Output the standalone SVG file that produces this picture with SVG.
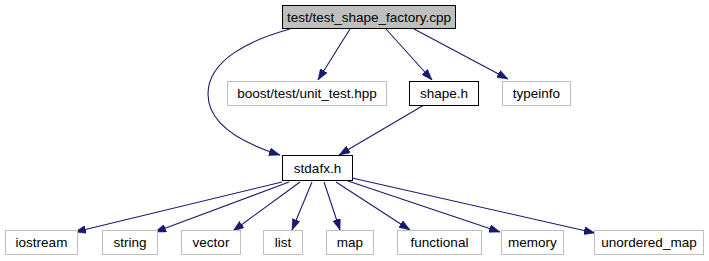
<svg xmlns="http://www.w3.org/2000/svg" width="709" height="261" viewBox="0 0 709 261">
  <style>
    .node text { font-family: "Liberation Sans", Arial, sans-serif; font-size: 13.5px; fill: #000; text-anchor: middle; }
    .main rect { fill: #bfbfbf; stroke: #000; stroke-width: 1; }
    .local rect { fill: #fff; stroke: #000; stroke-width: 1; }
    .sys rect { fill: #fff; stroke: #bfbfbf; stroke-width: 1; }
    .edges path { fill: none; stroke: #191970; stroke-width: 1.1; marker-end: url(#arrow); }
  </style>
  <defs>
    <marker id="arrow" viewBox="0 0 11 8" markerWidth="11" markerHeight="8" refX="11" refY="4" orient="auto" markerUnits="userSpaceOnUse">
      <path d="M0,0 L11,4 L0,8 z" fill="#191970" stroke="#191970" stroke-width="0.5"/>
    </marker>
  </defs>
  <rect width="709" height="261" fill="#fff"/>

  <!-- dependency edges -->
  <g class="edges" id="edges">
    <path d="M290,29 C250,40 208,60 208,94 C208,126 245,144 280,155"/>
    <path d="M350,29 L318,80"/>
    <path d="M386,29 L432,80"/>
    <path d="M414,29 L508,79"/>
    <path d="M424,105 L339,155"/>
    <path d="M282,182 L75,232"/>
    <path d="M289,182 L155,232"/>
    <path d="M300,182 L233,231"/>
    <path d="M312,182 L292,230"/>
    <path d="M324,182 L340,230"/>
    <path d="M336,182 L410,230"/>
    <path d="M348,181 L500,232"/>
    <path d="M352,178 L595,233"/>
  </g>

  <!-- source file -->
  <g class="node main" id="node_test_shape_factory">
    <rect x="282.5" y="5.5" width="173" height="23"/>
    <text x="369" y="22">test/test_shape_factory.cpp</text>
  </g>

  <!-- second row -->
  <g class="node sys" id="node_unit_test">
    <rect x="227.5" y="81.5" width="159" height="24"/>
    <text x="307" y="98">boost/test/unit_test.hpp</text>
  </g>
  <g class="node local" id="node_shape_h">
    <rect x="409.5" y="81.5" width="69" height="24"/>
    <text x="444" y="98">shape.h</text>
  </g>
  <g class="node sys" id="node_typeinfo">
    <rect x="502.5" y="81.5" width="68" height="24"/>
    <text x="536.5" y="98">typeinfo</text>
  </g>

  <!-- precompiled header -->
  <g class="node local" id="node_stdafx_h">
    <rect x="282.5" y="155.5" width="70" height="25"/>
    <text x="317.5" y="173">stdafx.h</text>
  </g>

  <!-- standard library headers -->
  <g class="node sys" id="node_iostream">
    <rect x="5.5" y="230.5" width="72" height="24"/>
    <text x="41.5" y="247">iostream</text>
  </g>
  <g class="node sys" id="node_string">
    <rect x="102.5" y="230.5" width="55" height="24"/>
    <text x="130" y="247">string</text>
  </g>
  <g class="node sys" id="node_vector">
    <rect x="181.5" y="230.5" width="59" height="24"/>
    <text x="211" y="247">vector</text>
  </g>
  <g class="node sys" id="node_list">
    <rect x="263.5" y="230.5" width="39" height="24"/>
    <text x="283" y="247">list</text>
  </g>
  <g class="node sys" id="node_map">
    <rect x="326.5" y="230.5" width="47" height="24"/>
    <text x="350" y="247">map</text>
  </g>
  <g class="node sys" id="node_functional">
    <rect x="397.5" y="230.5" width="84" height="24"/>
    <text x="439.5" y="247">functional</text>
  </g>
  <g class="node sys" id="node_memory">
    <rect x="501.5" y="230.5" width="62" height="24"/>
    <text x="532.5" y="247">memory</text>
  </g>
  <g class="node sys" id="node_unordered_map">
    <rect x="594.5" y="230.5" width="109" height="24"/>
    <text x="649" y="247">unordered_map</text>
  </g>
</svg>
